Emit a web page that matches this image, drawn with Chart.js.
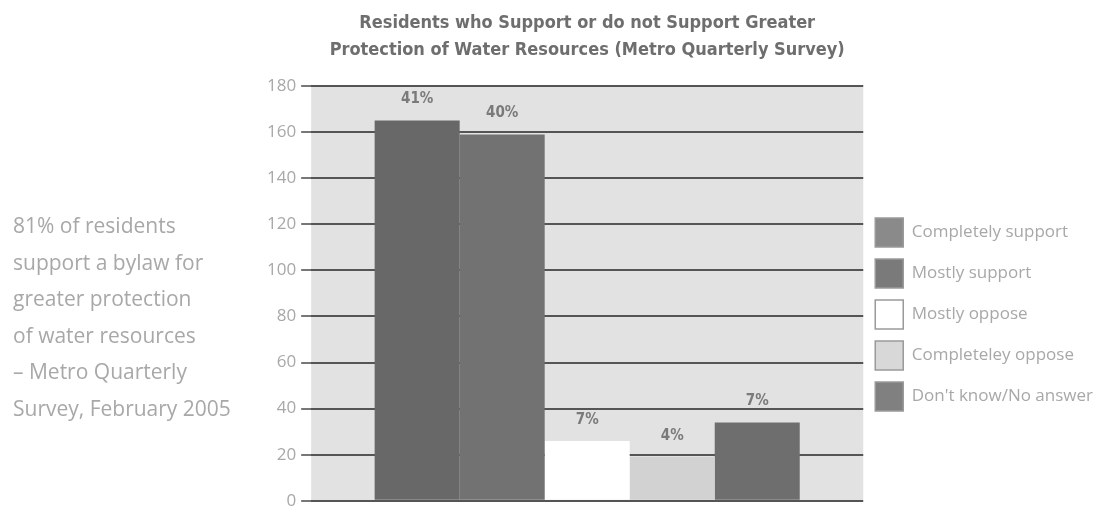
<!DOCTYPE html>
<html>
<head>
<meta charset="utf-8">
<script src="https://cdn.jsdelivr.net/npm/chart.js@4.4.1/dist/chart.umd.min.js"></script>
<style>
  html, body { margin: 0; padding: 0; background: #ffffff; }
  #wrap { position: relative; width: 1110px; height: 516px; }
  #side {
    position: absolute; left: 13px; top: 207px;
    font-family: "Open Sans", sans-serif; font-size: 21px; line-height: 36.6px;
    color: #a8a8a8; white-space: nowrap;
  }
</style>
</head>
<body>
<div id="wrap">
  <canvas id="c" width="1110" height="516"></canvas>
  <div id="side">81% of residents<br>support a bylaw for<br>greater protection<br>of water resources<br>– Metro Quarterly<br>Survey, February 2005</div>
</div>
<script>
const titleLines = ["Residents who Support or do not Support Greater", "Protection of Water Resources (Metro Quarterly Survey)"];
const categories = [""];
const seriesNames = ["Completely support", "Mostly support", "Mostly oppose", "Completeley oppose", "Don't know/No answer"];
const seriesValues = [165, 159, 26, 19, 34];
const percentLabels = ["41%", "40%", "7%", "4%", "7%"];
const yTicks = [0, 20, 40, 60, 80, 100, 120, 140, 160, 180];

const barColors = ["#686868", "#727272", "#ffffff", "#d2d2d2", "#6e6e6e"];
const swatchColors = ["#8a8a8a", "#7a7a7a", "#ffffff", "#d8d8d8", "#808080"];

const plotBg = {
  id: 'plotBg',
  beforeDraw(chart) {
    const {ctx, chartArea: a} = chart;
    ctx.save();
    ctx.fillStyle = '#e2e2e2';
    ctx.fillRect(a.left, a.top, a.right - a.left, a.bottom - a.top);
    ctx.restore();
  }
};

const pctLabels = {
  id: 'pctLabels',
  afterDatasetsDraw(chart) {
    const {ctx} = chart;
    ctx.save();
    ctx.font = 'bold 15px "DejaVu Sans Condensed", sans-serif';
    ctx.fillStyle = '#7a7a7a';
    ctx.textAlign = 'center';
    ctx.textBaseline = 'middle';
    chart.data.datasets.forEach((ds, i) => {
      const el = chart.getDatasetMeta(i).data[0];
      ctx.fillText(percentLabels[i], el.x, el.y - 21);
    });
    ctx.restore();
  }
};

new Chart(document.getElementById('c'), {
  type: 'bar',
  data: {
    labels: categories,
    datasets: seriesNames.map((n, i) => ({
      label: n,
      data: [seriesValues[i]],
      backgroundColor: barColors[i],
      borderWidth: 0
    }))
  },
  options: {
    responsive: false,
    animation: false,
    devicePixelRatio: 1,
    datasets: { bar: { categoryPercentage: 0.77, barPercentage: 1.0 } },
    layout: { padding: { left: 262, right: 7, top: 10, bottom: 10 } },
    scales: {
      x: { display: false },
      y: {
        min: 0, max: 180,
        afterBuildTicks(axis) { axis.ticks = yTicks.map(v => ({ value: v })); },
        ticks: {
          color: '#a8a8a8',
          font: { family: '"Open Sans", sans-serif', size: 17 },
          padding: 5
        },
        grid: { color: '#555555', lineWidth: 2, tickLength: 10, tickColor: '#777777' },
        border: { display: false }
      }
    },
    plugins: {
      title: {
        display: true,
        text: titleLines,
        color: '#6e6e6e',
        fullSize: false,
        font: { family: '"DejaVu Sans Condensed", sans-serif', size: 18, weight: 'bold', lineHeight: 1.5 },
        padding: { top: 0, bottom: 22 }
      },
      legend: {
        display: true,
        position: 'right',
        align: 'start',
        maxWidth: 400,
        title: { display: true, text: ' ', font: { size: 10 }, padding: { top: 184, bottom: 0 } },
        labels: {
          boxWidth: 28,
          boxHeight: 29,
          padding: 12,
          color: '#a8a8a8',
          font: { family: '"Open Sans", sans-serif', size: 17 },
          generateLabels(chart) {
            return chart.data.datasets.map((ds, i) => ({
              text: ds.label,
              fillStyle: swatchColors[i],
              strokeStyle: '#9a9a9a',
              lineWidth: 1.5,
              fontColor: '#a8a8a8',
              datasetIndex: i,
              hidden: false
            }));
          }
        }
      },
      tooltip: { enabled: false }
    }
  },
  plugins: [plotBg, pctLabels]
});
</script>
</body>
</html>
